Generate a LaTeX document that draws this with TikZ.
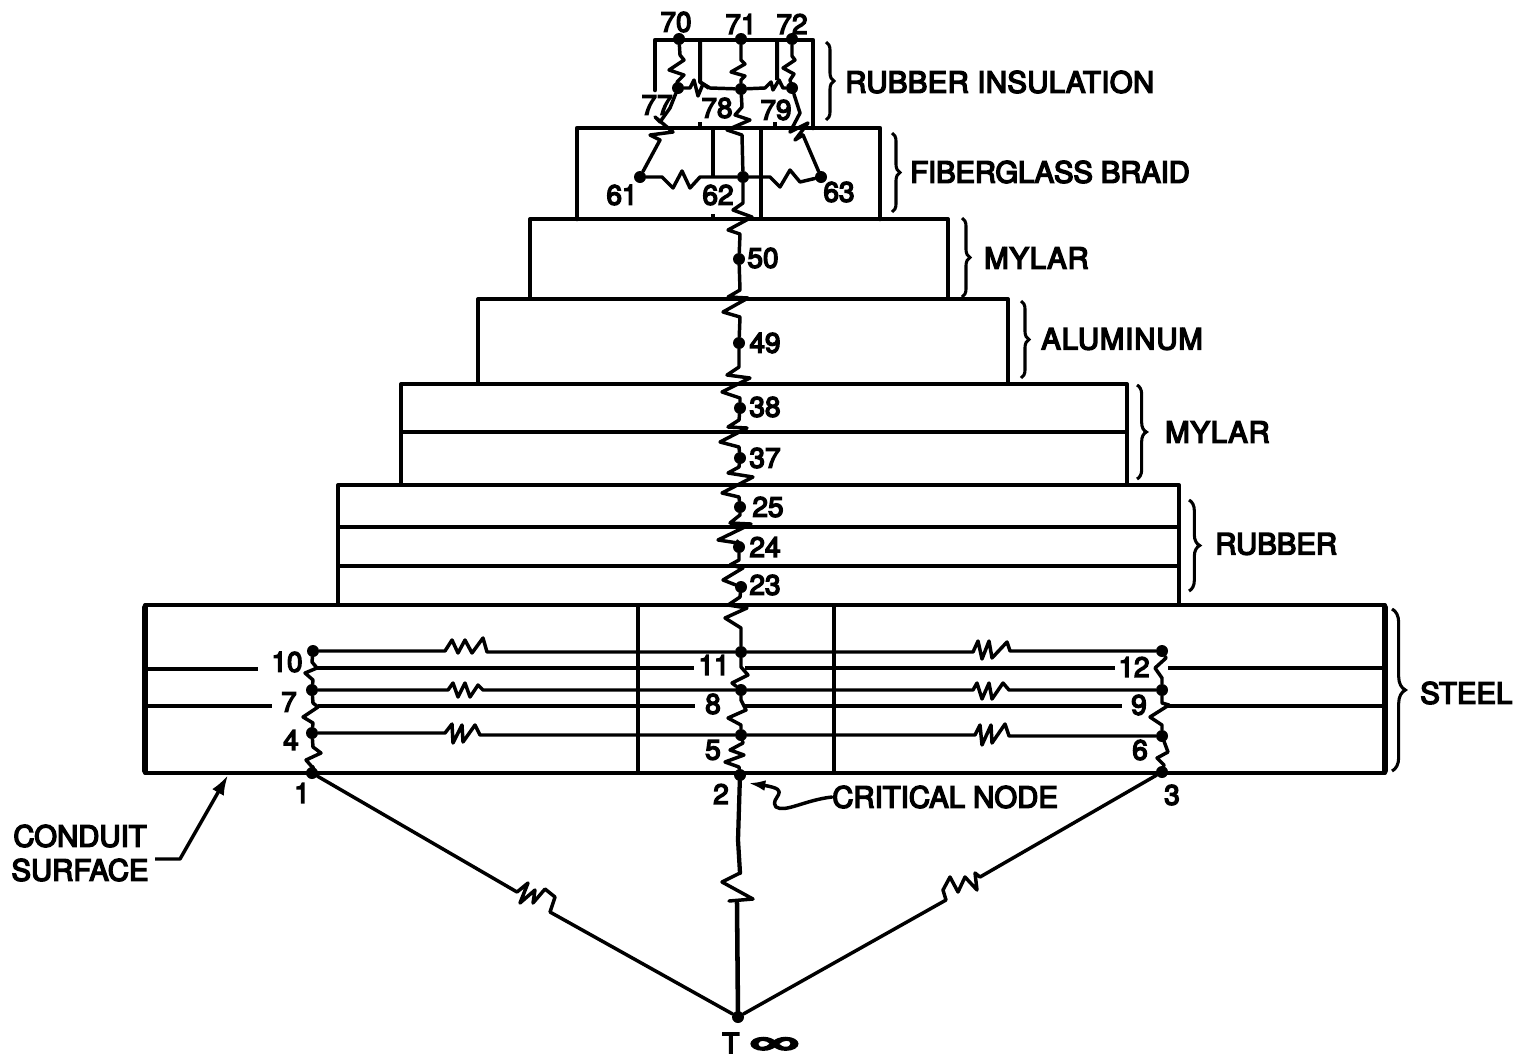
\documentclass[tikz,border=0pt]{standalone}
\usepackage{fontspec}
\setmainfont{TeX Gyre Heros}[FakeBold=5]
\newcommand{\spc}[2]{{\addfontfeature{LetterSpace=#1}#2}}
\usetikzlibrary{decorations.pathreplacing,arrows.meta}
\tikzset{
  wall/.style={line width=3.4pt,line join=round,line cap=round},
  sidewall/.style={line width=3pt,line join=round},
  layerline/.style={line width=2.3pt},
  wire/.style={line width=2.6pt,line join=round,line cap=round},
  dot/.style={circle,fill=black,inner sep=0pt,minimum size=9pt},
  num/.style={font=\fontsize{21}{21}\selectfont,inner sep=0pt},
  lab/.style={font=\fontsize{22}{22}\selectfont,inner sep=0pt},
  curly/.style={line width=2.3pt,decorate,decoration={brace,amplitude=#1,aspect=0.5}},
  curly/.default=6pt
}
\begin{document}
\begin{tikzpicture}[x=0.75pt,y=-0.75pt]
\useasboundingbox[fill=white] (0,0) rectangle (1527,1057);
% layers
\draw[sidewall] (145,773) -- (145,605) -- (1385,605) -- (1385,773) -- cycle;
\draw[wall,line width=4pt] (145,771) -- (145,607) (1385,607) -- (1385,771);
\draw[sidewall] (338,605) -- (338,485) -- (1179,485) -- (1179,605);
\draw[sidewall] (401,485) -- (401,384) -- (1127,384) -- (1127,485);
\draw[sidewall] (478,384) -- (478,299) -- (1008,299) -- (1008,384);
\draw[sidewall] (530,299) -- (530,219) -- (948,219) -- (948,299);
\draw[wall] (577,219) -- (577,128) -- (880,128) -- (880,219);
\draw[wall] (655,90) -- (655,40) -- (813,40) -- (813,128);
% inner lines
\draw[layerline] (338,527) -- (1179,527) (338,566) -- (1179,566) (401,432) -- (1127,432);
\draw[layerline] (145,669) -- (258,669) (316,668) -- (694,668) (745,668) -- (1115,668) (1168,668) -- (1383,668);
\draw[layerline] (145,706) -- (272,706) (318,706) -- (695,706) (745,706) -- (1122,706) (1166,706) -- (1383,706);
\draw[sidewall] (638,605) -- (638,773) (834,605) -- (834,773);
\draw[sidewall] (713,128) -- (713,177) (713,214) -- (713,219) (761,128) -- (761,219);
\draw[sidewall] (700,40) -- (700,82) -- (709,88) (777,40) -- (777,80);
\draw[sidewall] (700,122) -- (700,128) (775,122) -- (775,128);
% nodes
\foreach \n/\x/\y in {70/679/39,71/741/39,72/792/39,77/678/88,78/741/89,79/792/88,
  61/640/177,62/743/177,63/821/177,50/739/259,49/739/343,38/740/408,37/740/458,
  25/740/507,24/739/547,23/741/587,11/741/652,8/741/690,5/741/735,2/740/775,
  10/313/651,7/312/690,4/312/733,1/312/773,12/1162/651,9/1162/690,6/1162/736,3/1162/772}
  \node[dot] (n\n) at (\x,\y) {};
\node[dot] (tinf) at (738,1017) {};
% top network
\draw[wire] (n70) -- (680,55) -- (684,60) -- (669,70) -- (684,75) -- (677,82) -- (n77);
\draw[wire] (n71) -- (741,60) -- (745,64) -- (731,72) -- (745,76) -- (741,80) -- (n78);
\draw[wire] (n72) -- (792,56) -- (795,60) -- (783,68) -- (794,74) -- (790,80) -- (n79);
\draw[wire] (n77) -- (690,88) -- (694,80) -- (698,96) -- (703,84) -- (710,88) -- (n78);
\draw[wire] (n78) -- (765,88) -- (771,82) -- (773,90) -- (779,80) -- (783,88) -- (n79);
\draw[wire] (n77) -- (670,108) -- (660,122) -- (655,117) -- (673,132) -- (650,135) -- (660,140) -- (n61);
\draw[wire] (n78) -- (742,107) -- (735,115) -- (750,120) -- (727,130) -- (742,135) -- (n62);
\draw[wire] (n79) -- (800,113) -- (790,132) -- (808,123) -- (795,140) -- (803,135) -- (n63);
\draw[wire] (n61) -- (662,177) -- (673,188) -- (682,171) -- (690,188) -- (700,177) -- (n62);
\draw[wire] (n62) -- (770,177) -- (780,187) -- (790,170) -- (800,182) -- (n63);
% central chain
\draw[wire] (n62) -- (743,203) -- (733,210) -- (752,217) -- (728,230) -- (740,234) -- (n50);
\draw[wire] (n50) -- (740,290) -- (728,297) -- (748,298) -- (723,312) -- (740,317) -- (n49);
\draw[wire] (n49) -- (739,367) -- (727,375) -- (750,378) -- (722,392) -- (740,398) -- (n38);
\draw[wire] (n38) -- (739,420) -- (728,427) -- (747,428) -- (720,442) -- (739,447) -- (n37);
\draw[wire] (n37) -- (739,467) -- (728,473) -- (753,477) -- (722,493) -- (739,497) -- (n25);
\draw[wire] (n25) -- (740,515) -- (730,523) -- (751,524) -- (718,540) -- (738,543) -- (n24);
\draw[wire] (n24) -- (739,560) -- (730,565) -- (743,568) -- (723,580) -- (n23);
\draw[wire] (n23) -- (740,597) -- (728,605) -- (747,608) -- (725,618) -- (741,628) -- (n11);
\draw[wire] (n11) -- (741,667) -- (748,675) -- (732,683) -- (n8);
\draw[wire] (n8) -- (741,700) -- (746,710) -- (728,718) -- (741,725) -- (n5);
\draw[wire] (n5) -- (743,743) -- (730,750) -- (744,755) -- (725,762) -- (739,767) -- (n2);
% left chain
\draw[wire] (n10) -- (312,662) -- (317,668) -- (305,673) -- (313,680) -- (n7);
\draw[wire] (n7) -- (313,703) -- (318,707) -- (303,717) -- (313,723) -- (n4);
\draw[wire] (n4) -- (313,747) -- (321,753) -- (306,760) -- (313,768) -- (n1);
% right chain
\draw[wire] (n12) -- (1166,658) -- (1155,668) -- (1162,678) -- (n9);
\draw[wire] (n9) -- (1162,703) -- (1169,705) -- (1150,717) -- (1162,725) -- (n6);
\draw[wire] (n6) -- (1168,752) -- (1157,758) -- (1164,765) -- (n3);
% horizontal resistors
\draw[wire] (n10) -- (445,651) -- (452,640) -- (458,653) -- (465,640) -- (472,653) -- (483,638) -- (487,652) -- (n11);
\draw[wire] (n7) -- (448,690) -- (453,683) -- (458,697) -- (465,683) -- (470,697) -- (478,685) -- (483,690) -- (n8);
\draw[wire] (n4) -- (445,733) -- (452,724) -- (453,743) -- (462,725) -- (463,742) -- (475,725) -- (480,735) -- (n5);
\draw[wire] (n11) -- (973,652) -- (978,641) -- (982,659) -- (989,641) -- (992,658) -- (1007,642) -- (1010,651) -- (n12);
\draw[wire] (n8) -- (973,690) -- (977,683) -- (982,699) -- (989,683) -- (992,699) -- (1003,683) -- (1009,690) -- (n9);
\draw[wire] (n5) -- (975,735) -- (980,725) -- (982,745) -- (991,725) -- (992,743) -- (1005,724) -- (1009,736) -- (n6);
% to T infinity
\draw[wire,line width=3.2pt] (n2) -- (738,840) -- (740,873);
\draw[wire] (740,873) -- (722,882) -- (753,899) -- (729,901);
\draw[wire,line width=3.4pt] (737,903) -- (tinf);
\draw[wire] (n1) -- (517,892) -- (528,883) -- (520,903) -- (535,890) -- (533,903) -- (545,889) -- (555,897) -- (550,912) -- (tinf);
\draw[wire] (n3) -- (980,877) -- (975,873) -- (977,890) -- (965,877) -- (958,892) -- (950,877) -- (943,890) -- (946,900) -- (tinf);
% numbers
\foreach \t/\x/\y in {70/676/22,71/741/24,72/792/24,77/657/105,78/717/108,79/776/110,
  61/622/195,62/718/195,63/839/192,50/763/258,49/765/343,38/765/407,37/765/458,
  25/768/507,24/765/547,23/765/585,10/287/662,7/289/702,4/291/740,1/302/793,
  11/714/665,8/713/704,5/713/750,2/721/794,12/1134/667,9/1139/705,6/1140/750,3/1172/795}
  \node[num] (t\t) at (\x,\y) {\t};
% braces
\draw[curly] (826,42) -- (826,120);
\draw[curly] (892,133) -- (892,212);
\draw[curly] (962,218) -- (962,297);
\draw[curly] (1021,301) -- (1021,378);
\draw[curly=7pt] (1137,385) -- (1137,479);
\draw[curly=8pt] (1189,500) -- (1189,591);
\draw[curly=10pt] (1392,609) -- (1392,771);
% labels
\node[lab,anchor=west] (lri) at (845,82) {\spc{1.2}{RUBBER INSULATION}};
\node[lab,anchor=west] (lfb) at (910,172) {\spc{-0.6}{FIBERGLASS BRAID}};
\node[lab,anchor=west] (lmy) at (984,258) {\spc{2.5}{MYLAR}};
\node[lab,anchor=west] (lal) at (1041,339) {\spc{3}{ALUMINUM}};
\node[lab,anchor=west] (lm2) at (1165,432) {\spc{2.5}{MYLAR}};
\node[lab,anchor=west] (lru) at (1215,544) {RUBBER};
\node[lab,anchor=west] (lst) at (1420,693) {STEEL};
\node[lab,anchor=west] (lcn) at (832,797) {CRITICAL NODE};
\node[lab] (lco) at (80,836) {CONDUIT};
\node[lab] (lsu) at (80,870) {SURFACE};
\node[num,anchor=west] (ltf) at (722,1043) {T\hspace{8pt}\raisebox{1pt}{\scalebox{2.4}[1.1]{∞}}};
% arrows
\coordinate (cst) at (155,859);
\coordinate (csh) at (228,775);
\draw[wire,line cap=butt,-{Latex[length=15pt,width=10pt]}] (cst) -- (180,859) -- (csh);
\coordinate (cnh) at (748,783);
\draw[wire,-{Latex[length=13pt,width=8pt]}] (lcn.west) .. controls (805,800) and (785,813) .. (776,807) .. controls (768,798) and (795,790) .. (cnh);
\end{tikzpicture}
\end{document}
